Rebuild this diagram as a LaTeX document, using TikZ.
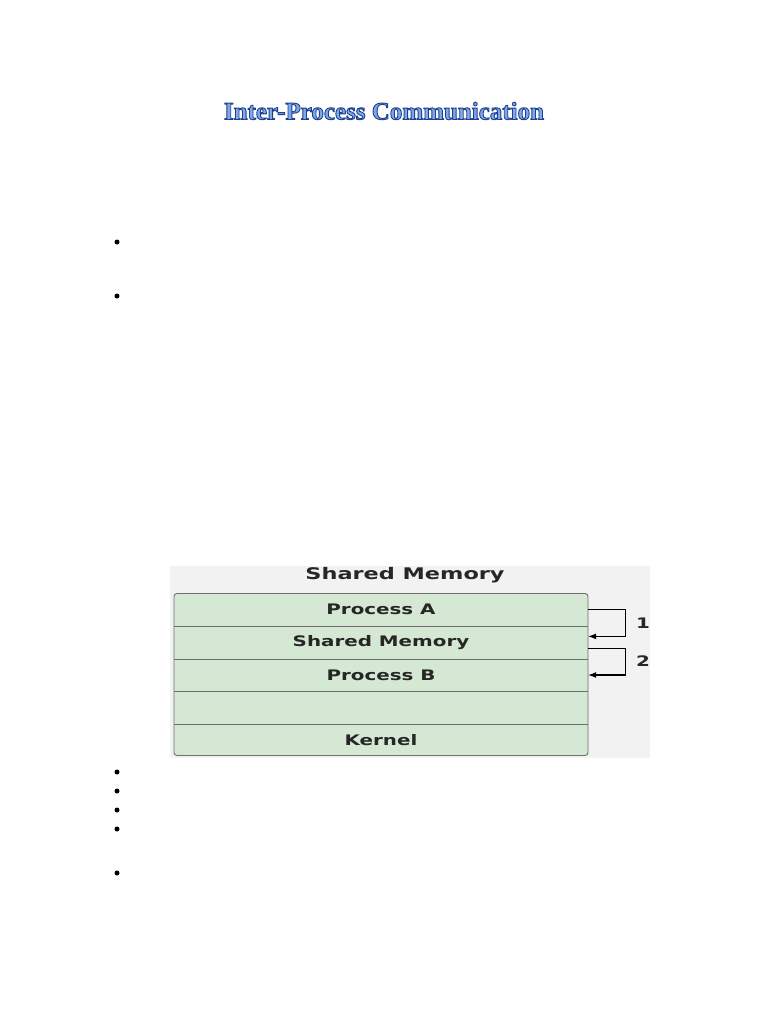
\documentclass[tikz,border=0pt]{standalone}
\usepackage{fontspec}
\setmainfont{Liberation Serif}
\newfontfamily\dvs{DejaVu Sans}
\usetikzlibrary{arrows.meta,calc}
\definecolor{rowgreen}{HTML}{D5E8D4}
\definecolor{panelgray}{HTML}{F2F2F2}
\definecolor{edgegray}{HTML}{6E6E6E}
\definecolor{txtgray}{HTML}{262626}
\definecolor{titlefill}{HTML}{7FA8E8}
\tikzset{
  bulletdot/.style={circle,fill=black,inner sep=0pt,minimum size=5pt},
  rowbox/.style={rectangle,inner sep=0pt,minimum width=414pt,minimum height=32.6pt,
    text=txtgray,font=\dvs\bfseries\fontsize{14.5}{17}\selectfont},
  sep/.style={draw=edgegray,line width=0.8pt},
  flow/.style={draw=black,line width=1.1pt,-{Latex[length=8pt,width=6pt]}},
  numlabel/.style={text=txtgray,font=\dvs\bfseries\fontsize{14.5}{17}\selectfont},
}
\newcommand{\wide}[1]{\scalebox{1.37}[1]{#1}}
\newcommand{\outlined}[1]{\special{pdf:literal direct 2 Tr 0.9 w 0.12 0.25 0.56 RG}#1\special{pdf:literal direct 0 Tr}}
\begin{document}
\begin{tikzpicture}[x=1pt,y=-1pt]
\useasboundingbox (0,0) rectangle (768,1024);
\fill[white] (0,0) rectangle (768,1024);
% title
\node (title) [text=titlefill,font=\bfseries\fontsize{25}{29}\selectfont] at (384,111) {\outlined{Inter-Process Communication}};
% bullets
\node[bulletdot] (b1) at (117,242) {};
\node[bulletdot] (b2) at (117,296) {};
\node[bulletdot] (b3) at (117,772) {};
\node[bulletdot] (b4) at (117,791) {};
\node[bulletdot] (b5) at (117,810) {};
\node[bulletdot] (b6) at (117,829) {};
\node[bulletdot] (b7) at (117,873) {};
% panel
\fill[panelgray] (170,566) rectangle (650,758);
\node (paneltitle) [text=txtgray,font=\dvs\bfseries\fontsize{16}{19}\selectfont] at (405,575) {\scalebox{1.4}[1]{Shared Memory}};
\draw[draw=edgegray,fill=rowgreen,line width=0.9pt,rounded corners=3pt] (174,593.5) rectangle (588,755.5);
\node[rowbox] (pa) at (381,609.8) {\wide{Process A}};
\node[rowbox] (sm) at (381,642.4) {\wide{Shared Memory}};
\node[rowbox] (pb) at (381,675.0) {\wide{Process B}};
\node[rowbox] (empty) at (381,707.6) {};
\node[rowbox] (kern) at (381,740.2) {\wide{Kernel}};
\draw[sep] (pa.south west) -- (pa.south east);
\draw[sep] (sm.south west) -- (sm.south east);
\draw[sep] (pb.south west) -- (pb.south east);
\draw[sep] (empty.south west) -- (empty.south east);
% arrows
\draw[flow] (pa.east) -- ++(37,0) |- ($(sm.east)+(0,-6)$);
\draw[flow] ($(sm.east)+(0,6)$) -- ++(37,0) |- (pb.east);
\node[numlabel] (n1) at (643,623) {\wide{1}};
\node[numlabel] (n2) at (643,661) {\wide{2}};
\end{tikzpicture}
\end{document}
